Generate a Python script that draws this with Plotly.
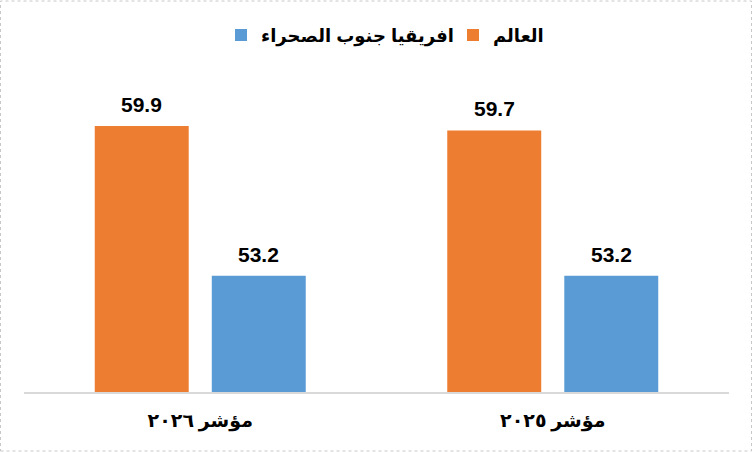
import plotly.graph_objects as go

categories = ["مؤشر ٢٠٢٦", "مؤشر ٢٠٢٥"]
world = [59.9, 59.7]
ssa = [53.2, 53.2]
series_names = ["العالم", "افريقيا جنوب الصحراء"]

orange = "#ED7D31"
blue = "#5B9BD5"

fig = go.Figure()
fig.add_trace(go.Bar(x=categories, y=world, name=series_names[0],
                     marker=dict(color=orange, line=dict(width=0))))
fig.add_trace(go.Bar(x=categories, y=ssa, name=series_names[1],
                     marker=dict(color=blue, line=dict(width=0))))

# value labels above the bars
for vals, shift in [(world, -58.5), (ssa, 58.5)]:
    for c, v in zip(categories, vals):
        fig.add_annotation(x=c, y=v, text="<b>%.1f</b>" % v, showarrow=False,
                           xshift=shift, yanchor="bottom", yshift=8,
                           font=dict(family="Liberation Sans, Arial", size=21, color="#000"))

# light dotted frame around the chart
fig.add_shape(type="rect", xref="paper", yref="paper",
              x0=-23.5 / 705, x1=1 + 22.5 / 705, y0=-59 / 313, y1=1 + 78 / 313,
              line=dict(color="#c8c8c8", width=1, dash="dot"))

fig.update_layout(
    width=752, height=452,
    margin=dict(l=24, r=23, t=79, b=60),
    paper_bgcolor="white", plot_bgcolor="white",
    barmode="group", bargap=0.336, bargroupgap=0.197,
    showlegend=True,
    legend=dict(orientation="h", x=(221 - 24) / 705, xanchor="left", y=1.14, yanchor="middle",
                traceorder="reversed", entrywidth=187, entrywidthmode="pixels",
                font=dict(family="Liberation Sans, Arial, DejaVu Sans", size=18, color="#000", weight="bold")),
    xaxis=dict(categoryorder="array", categoryarray=categories,
               showline=True, linecolor="#d9d9d9", linewidth=2, ticks="",
               ticklabelstandoff=10,
               tickfont=dict(family="Liberation Serif, Times New Roman, DejaVu Sans", size=19, color="#000", weight="bold")),
    yaxis=dict(range=[48, 62], visible=False, showgrid=False, zeroline=False),
)

fig.write_html("out.html", config={"displayModeBar": False},
               post_script="document.body.style.margin='0';")
